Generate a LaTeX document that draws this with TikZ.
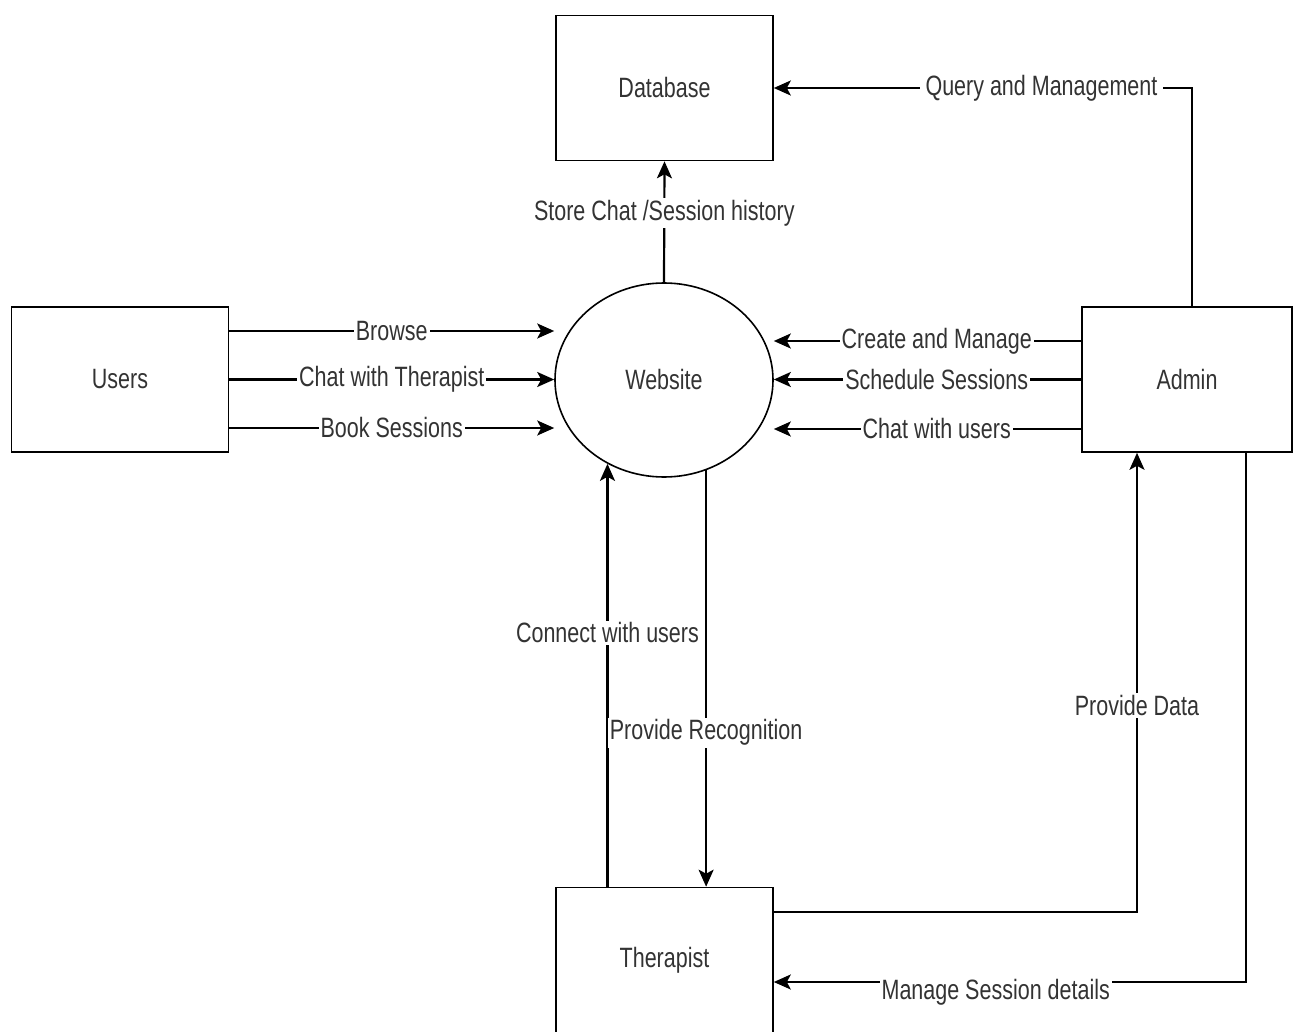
\documentclass[tikz,border=0pt]{standalone}
\usepackage{fontspec}
\setmainfont{Liberation Sans}
\usetikzlibrary{arrows.meta,shapes.geometric}

\newcommand{\dfd}[1]{\scalebox{1}[1.3]{#1}}

\tikzset{
  entity/.style={draw, line width=1.6pt, minimum width=217pt, minimum height=145pt,
    font=\fontsize{21.5}{24}\selectfont, text=black!80},
  process/.style={draw, ellipse, line width=1.6pt, minimum width=218pt, minimum height=194pt,
    font=\fontsize{21.5}{24}\selectfont, text=black!80},
  flow/.style={line width=2.2pt, -{Stealth[length=17pt,width=15pt,inset=4pt]}},
  lbl/.style={fill=white, inner sep=2pt, font=\fontsize{21.5}{24}\selectfont, text=black!80}
}

\begin{document}
\begin{tikzpicture}[x=1pt,y=-1pt]
\useasboundingbox (0,0) rectangle (1293,1032);

% process and entities
\node[process] (web) at (664,380) {\dfd{Website}};
\node[entity] (db) at (664.5,88) {\dfd{Database}};
\node[entity] (users) at (120,379.5) {\dfd{Users}};
\node[entity, minimum width=210pt] (admin) at (1187,379.5) {\dfd{Admin}};
\node[entity] (ther) at (664.5,960) {\dfd{Therapist}};

% database flows
\draw[flow] (web.north) -- node[lbl,pos=0.57]{\dfd{Store Chat /Session history}} (db.south);
\draw[flow] ([xshift=5pt]admin.north) |- node[lbl,pos=0.68,inner xsep=6pt]{\dfd{Query and Management}} (db.east);

% users to website
\draw[flow] ([yshift=48.5pt]users.east) -- node[lbl]{\dfd{Browse}} ([yshift=48.5pt]users.east -| web.west);
\draw[flow] (users.east) -- node[lbl]{\dfd{Chat with Therapist}} (users.east -| web.west);
\draw[flow] ([yshift=-48.5pt]users.east) -- node[lbl]{\dfd{Book Sessions}} ([yshift=-48.5pt]users.east -| web.west);

% admin to website
\draw[flow] ([yshift=38.5pt]admin.west) -- node[lbl,pos=0.47]{\dfd{Create and Manage}} ([yshift=38.5pt]admin.west -| web.east);
\draw[flow] (admin.west) -- node[lbl,pos=0.47]{\dfd{Schedule Sessions}} (admin.west -| web.east);
\draw[flow] ([yshift=-49.5pt]admin.west) -- node[lbl,pos=0.47]{\dfd{Chat with users}} ([yshift=-49.5pt]admin.west -| web.east);

% therapist flows
\draw[flow] (web.236.7 |- ther.north) -- node[lbl,pos=0.6]{\dfd{Connect with users}} (web.236.7);
\draw[flow] (web.295.8) -- node[lbl,pos=0.63]{\dfd{Provide Recognition}} (web.295.8 |- ther.north);
\draw[flow] ([yshift=48pt]ther.east) -| node[lbl,pos=0.725]{\dfd{Provide Data}} ([xshift=-50pt]admin.south);
\draw[flow] ([xshift=59pt]admin.south) |- node[lbl,pos=0.765,yshift=-10pt]{\dfd{Manage Session details}} ([yshift=-22pt]ther.east);
\end{tikzpicture}
\end{document}
